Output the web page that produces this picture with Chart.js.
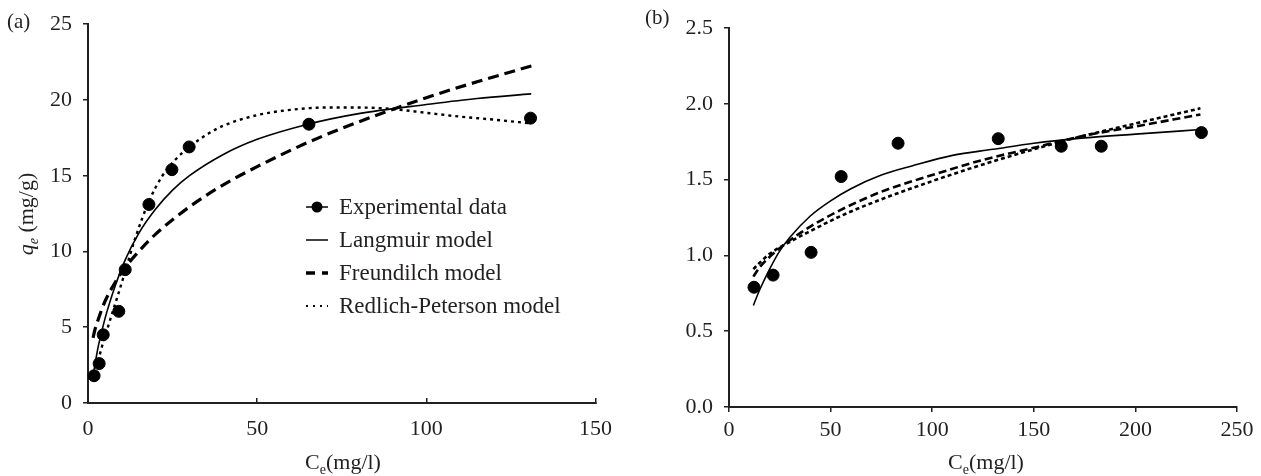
<!DOCTYPE html>
<html>
<head>
<meta charset="utf-8">
<script src="https://cdn.jsdelivr.net/npm/chart.js@4"></script>
<style>
  body { margin: 0; width: 1261px; height: 476px; background: #fff; position: relative; overflow: hidden;
         font-family: "Liberation Serif", serif; color: #231f20; }
  .box { position: absolute; top: 0; height: 476px; }
  #boxA { left: 0; width: 630px; }
  #boxB { left: 640px; width: 621px; }
  .txt { position: absolute; font-size: 22px; line-height: 1; white-space: nowrap; }
  .c { transform: translate(-50%, -50%); }
  .yt { transform: translate(-50%, -50%) rotate(-90deg); }
  sub { font-size: 14px; vertical-align: -5px; line-height: 0; }
  .legend { position: absolute; left: 303px; top: 190px; font-size: 23px; }
  .row { height: 33px; display: flex; align-items: center; }
  .row svg { width: 28px; height: 20px; margin-right: 8px; }
</style>
</head>
<body>
<div class="box" id="boxA"><canvas id="chartA"></canvas></div>
<div class="box" id="boxB"><canvas id="chartB"></canvas></div>

<div class="txt" style="left:7px;top:11px;font-size:21px">(a)</div>
<div class="txt" style="left:645px;top:7px;font-size:21px">(b)</div>
<div class="txt yt" style="left:26px;top:214px"><i>q<sub>e</sub></i> (mg/g)</div>
<div class="txt c" style="left:343px;top:462px">C<sub>e</sub>(mg/l)</div>
<div class="txt c" style="left:986px;top:462px">C<sub>e</sub>(mg/l)</div>

<div class="legend">
  <div class="row"><svg><line x1="3" y1="10" x2="25" y2="10" stroke="#000" stroke-width="1.5"/><circle cx="14" cy="10" r="5.5" fill="#000"/></svg>Experimental data</div>
  <div class="row"><svg><line x1="3" y1="10" x2="25" y2="10" stroke="#000" stroke-width="1.5"/></svg>Langmuir model</div>
  <div class="row"><svg><line x1="3" y1="10" x2="25" y2="10" stroke="#000" stroke-width="3.5" stroke-dasharray="9 7"/></svg>Freundilch model</div>
  <div class="row"><svg><line x1="3" y1="10" x2="25" y2="10" stroke="#000" stroke-width="2" stroke-dasharray="2 5"/></svg>Redlich-Peterson model</div>
</div>

<script>
// ---- panel (a) ----
const expX_a = [1.8, 3.3, 4.5, 9.1, 11.0, 18.0, 24.8, 29.9, 65.3, 130.8];
const expY_a = [1.8, 2.6, 4.5, 6.05, 8.8, 13.1, 15.4, 16.9, 18.4, 18.8];
const langX_a = [1.8, 3, 5, 8, 11, 15, 20, 25, 30, 40, 50, 65, 80, 100, 115, 131];
const langY_a = [2.2, 3.7, 5.55, 7.7, 9.45, 11.2, 12.8, 14.05, 15.0, 16.4, 17.4, 18.4, 19.1, 19.7, 20.1, 20.4];
const freuX_a = [1.5, 2, 3, 5, 8, 11, 15, 20, 30, 40, 50, 65, 80, 100, 115, 132];
const freuY_a = [4.3, 4.8, 5.5, 6.7, 7.95, 8.95, 10.0, 11.15, 12.95, 14.4, 15.6, 17.2, 18.55, 20.15, 21.2, 22.3];
const rpX_a = [1.8, 3.5, 5.6, 7.4, 9.1, 11, 14, 18, 22, 26, 30, 35, 40, 50, 60, 70, 80, 90, 100, 110, 120, 131];
const rpY_a = [1.4, 3.2, 4.8, 6.1, 7.3, 8.7, 10.9, 13.3, 15.0, 16.1, 16.9, 17.7, 18.3, 19.0, 19.35, 19.5, 19.5, 19.4, 19.15, 18.9, 18.7, 18.45];
const xTicks_a = [0, 50, 100, 150];
const yTicks_a = [0, 5, 10, 15, 20, 25];

// ---- panel (b) ----
const expX_b = [12.3, 21.7, 40.4, 55.2, 83.2, 132.5, 163.5, 183.2, 232.5];
const expY_b = [0.79, 0.87, 1.02, 1.52, 1.74, 1.77, 1.72, 1.72, 1.81];
const langX_b = [12, 15, 20, 25, 30, 40, 50, 60, 75, 90, 110, 130, 150, 175, 200, 232];
const langY_b = [0.67, 0.77, 0.91, 1.03, 1.12, 1.26, 1.36, 1.44, 1.53, 1.59, 1.66, 1.70, 1.74, 1.775, 1.80, 1.83];
const freuX_b = [12, 15, 20, 30, 40, 55, 75, 100, 125, 150, 175, 200, 232];
const freuY_b = [0.86, 0.92, 0.99, 1.10, 1.19, 1.30, 1.42, 1.53, 1.63, 1.71, 1.79, 1.85, 1.93];
const rpX_b = [12, 15, 20, 30, 40, 55, 75, 100, 125, 150, 175, 200, 232];
const rpY_b = [0.91, 0.95, 1.01, 1.09, 1.16, 1.26, 1.37, 1.49, 1.60, 1.70, 1.79, 1.87, 1.97];
const xTicks_b = [0, 50, 100, 150, 200, 250];
const yTicks_b = [0, 0.5, 1.0, 1.5, 2.0, 2.5];

const ink = '#231f20';
const tickFont = { family: '"Liberation Serif", serif', size: 22 };

function pts(xs, ys) {
    return xs.map((x, i) => ({ x: x, y: ys[i] }));
}

function curve(xs, ys, width, dash) {
    return {
        data: pts(xs, ys),
        showLine: true,
        borderColor: '#000',
        borderWidth: width,
        borderDash: dash,
        pointRadius: 0,
        cubicInterpolationMode: 'monotone',
        clip: false
    };
}

function makeChart(id, cfg) {
    const canvas = document.getElementById(id);
    const box = canvas.parentNode;
    canvas.width = box.clientWidth;
    canvas.height = box.clientHeight;
    return new Chart(canvas, {
        type: 'scatter',
        data: {
            datasets: [
                { data: pts(cfg.expX, cfg.expY), backgroundColor: '#000', borderColor: '#000',
                  pointRadius: 6, pointHoverRadius: 6, clip: false },
                curve(cfg.langX, cfg.langY, 1.6, []),
                curve(cfg.freuX, cfg.freuY, cfg.dashW, cfg.dash),
                curve(cfg.rpX, cfg.rpY, cfg.dotW, cfg.dot)
            ]
        },
        options: {
            responsive: false,
            animation: false,
            layout: { padding: cfg.padding },
            plugins: { legend: { display: false }, tooltip: { enabled: false } },
            scales: {
                x: {
                    type: 'linear',
                    min: cfg.xTicks[0],
                    max: cfg.xTicks[cfg.xTicks.length - 1],
                    afterBuildTicks: s => { s.ticks = cfg.xTicks.map(v => ({ value: v })); },
                    afterFit: s => { s.height = cfg.xAxisH; },
                    border: { color: ink, width: 2 },
                    grid: { drawOnChartArea: false, color: ink, lineWidth: 1.5, tickLength: cfg.xTickLen },
                    ticks: { color: ink, font: tickFont, padding: cfg.xPad, maxRotation: 0 }
                },
                y: {
                    type: 'linear',
                    min: cfg.yTicks[0],
                    max: cfg.yTicks[cfg.yTicks.length - 1],
                    afterBuildTicks: s => { s.ticks = cfg.yTicks.map(v => ({ value: v })); },
                    afterFit: s => { s.width = cfg.yAxisW; },
                    border: { color: ink, width: 2 },
                    grid: { drawOnChartArea: false, color: ink, lineWidth: 1.5, tickLength: 5 },
                    ticks: { color: ink, font: tickFont, padding: 11, callback: cfg.yFmt }
                }
            }
        }
    });
}

makeChart('chartA', {
    expX: expX_a, expY: expY_a, langX: langX_a, langY: langY_a,
    freuX: freuX_a, freuY: freuY_a, rpX: rpX_a, rpY: rpY_a,
    xTicks: xTicks_a, yTicks: yTicks_a,
    dashW: 3.2, dash: [11, 6], dotW: 2.4, dot: [3, 4],
    padding: { top: 24, right: 34, left: 0, bottom: 0 },
    xAxisH: 73, yAxisW: 88, xTickLen: -5, xPad: 18,
    yFmt: v => String(v)
});

makeChart('chartB', {
    expX: expX_b, expY: expY_b, langX: langX_b, langY: langY_b,
    freuX: freuX_b, freuY: freuY_b, rpX: rpX_b, rpY: rpY_b,
    xTicks: xTicks_b, yTicks: yTicks_b,
    dashW: 2.6, dash: [8, 4], dotW: 2.6, dot: [4, 3],
    padding: { top: 28, right: 24, left: 0, bottom: 0 },
    xAxisH: 69, yAxisW: 89, xTickLen: 5, xPad: 5,
    yFmt: v => Number(v).toFixed(1)
});
</script>
</body>
</html>
